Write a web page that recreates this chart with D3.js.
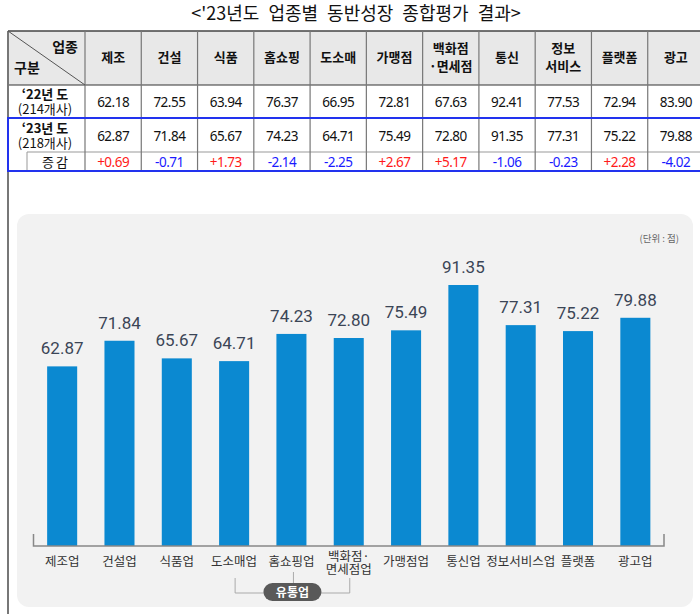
<!DOCTYPE html>
<html><head><meta charset="utf-8">
<script src="https://cdn.jsdelivr.net/npm/d3@7/dist/d3.min.js"></script>
<style>
html,body{margin:0;padding:0;background:#fff;}
svg{display:block;}
</style></head>
<body>
<svg id="c" width="700" height="614"></svg>
<script>
// ---- data ----
const title = "<'23년도 업종별 동반성장 종합평가 결과>";
const tableCats = ["제조","건설","식품","홈쇼핑","도소매","가맹점","백화점\n·면세점","통신","정보\n서비스","플랫폼","광고"];
const values22 = [62.18,72.55,63.94,76.37,66.95,72.81,67.63,92.41,77.53,72.94,83.90];
const values23 = [62.87,71.84,65.67,74.23,64.71,75.49,72.80,91.35,77.31,75.22,79.88];
const diffs = ["+0.69","-0.71","+1.73","-2.14","-2.25","+2.67","+5.17","-1.06","-0.23","+2.28","-4.02"];
const chartCats = ["제조업","건설업","식품업","도소매업","홈쇼핑업","백화점·\n면세점업","가맹점업","통신업","정보서비스업","플랫폼","광고업"];
const chartValues = [62.87,71.84,65.67,64.71,74.23,72.80,75.49,91.35,77.31,75.22,79.88];
const groupLabel = "유통업";
const unitLabel = "(단위 : 점)";

(function(){
const KR = "'Noto Sans CJK KR','Noto Sans',sans-serif";
const svg = d3.select("#c");

// ---- title ----
svg.append("text").attr("x",356).attr("y",20).attr("text-anchor","middle")
  .attr("font-family",KR).attr("font-size",18).attr("word-spacing",5).attr("fill","#111").text(title);

// ---- table ----
const tx = d3.scaleBand().domain(tableCats).range([85,704]);
const tTop=31, hBot=85, r1Bot=118, r2Bot=152, r3Bot=171, tLeft=8;
svg.append("rect").attr("x",tLeft).attr("y",tTop).attr("width",700-tLeft).attr("height",hBot-tTop).attr("fill","#e8e8e8");
const hl = (yy,x1,x2,col,w)=>svg.append("line").attr("x1",x1).attr("x2",x2).attr("y1",yy).attr("y2",yy).attr("stroke",col).attr("stroke-width",w);
hl(tTop,tLeft,700,"#444",1.5);
hl(hBot,tLeft,700,"#333",1.2);
hl(r2Bot,27,700,"#999",1);
tableCats.forEach(c=>{
  svg.append("line").attr("x1",tx(c)).attr("x2",tx(c)).attr("y1",tTop).attr("y2",r3Bot).attr("stroke","#777").attr("stroke-width",1.2);
});
svg.append("line").attr("x1",27).attr("x2",27).attr("y1",r2Bot).attr("y2",r3Bot).attr("stroke","#999").attr("stroke-width",1);
svg.append("line").attr("x1",tLeft).attr("x2",tLeft).attr("y1",tTop).attr("y2",614).attr("stroke","#777").attr("stroke-width",2);
svg.append("line").attr("x1",tLeft).attr("y1",tTop).attr("x2",85).attr("y2",hBot).attr("stroke","#555").attr("stroke-width",1);
svg.append("text").attr("x",78).attr("y",52).attr("text-anchor","end").attr("font-family",KR).attr("font-weight","bold").attr("font-size",14).attr("fill","#111").text("업종");
svg.append("text").attr("x",14).attr("y",73).attr("font-family",KR).attr("font-weight","bold").attr("font-size",14).attr("fill","#111").text("구분");
tableCats.forEach(c=>{
  const lines=c.split("\n");
  const cx=tx(c)+tx.bandwidth()/2;
  const t=svg.append("text").attr("text-anchor","middle").attr("font-family",KR).attr("font-weight","bold").attr("font-size",13).attr("fill","#111");
  lines.forEach((l,i)=>{
    t.append("tspan").attr("x",cx).attr("y",(lines.length===1?62:53+i*18)).text(l);
  });
});
const rowLab=(yy,a,b)=>{
  svg.append("text").attr("x",45).attr("y",yy).attr("text-anchor","middle").attr("font-family",KR).attr("font-weight","bold").attr("font-size",13).attr("fill","#111").text(a);
  svg.append("text").attr("x",45).attr("y",yy+15).attr("text-anchor","middle").attr("font-family",KR).attr("font-size",13).attr("fill","#111").text(b);
};
rowLab(99,"‘22년 도","(214개사)");
rowLab(133,"‘23년 도","(218개사)");
svg.append("text").attr("x",56).attr("y",167).attr("text-anchor","middle").attr("font-family",KR).attr("font-size",13).attr("letter-spacing",2).attr("fill","#111").text("증감");
const cellTxt=(arr,yy,colorFn)=>arr.forEach((v,i)=>{
  const c=tableCats[i];
  svg.append("text").attr("x",tx(c)+tx.bandwidth()/2).attr("y",yy).attr("text-anchor","middle")
    .attr("font-family","'Noto Sans',sans-serif").attr("font-size",13.5).attr("letter-spacing",-0.5).attr("fill",colorFn(v)).text(typeof v==="number"?v.toFixed(2):v);
});
cellTxt(values22,107,()=>"#111");
cellTxt(values23,141,()=>"#111");
cellTxt(diffs,167,v=>v[0]==="+"?"#ff1a1a":"#1a1aff");
svg.append("path").attr("d",`M700,${r1Bot}H${tLeft}V${r3Bot}H700`).attr("fill","none").attr("stroke","#2233ee").attr("stroke-width",2);

// ---- chart panel ----
svg.append("rect").attr("x",17).attr("y",214).attr("width",676).attr("height",393).attr("rx",12).attr("fill","#f2f2f2");
svg.append("text").attr("x",679).attr("y",242).attr("text-anchor","end").attr("font-family",KR).attr("font-size",9.5).attr("fill","#666").text(unitLabel);

const x = d3.scaleBand().domain(chartCats).range([33.5,664]).paddingInner(0.476).paddingOuter(0.238);
const y = d3.scaleLinear().domain([0,100]).range([546,260.3]);

svg.selectAll("rect.bar").data(chartValues).enter().append("rect").attr("class","bar")
  .attr("x",(d,i)=>x(chartCats[i])).attr("width",x.bandwidth())
  .attr("y",d=>y(d)).attr("height",d=>y(0)-y(d)).attr("fill","#0b89d1");
svg.selectAll("text.val").data(chartValues).enter().append("text").attr("class","val")
  .attr("x",(d,i)=>x(chartCats[i])+x.bandwidth()/2).attr("y",d=>y(d)-12)
  .attr("text-anchor","middle").attr("font-family","Roboto,'Noto Sans',sans-serif").attr("font-size",17).attr("fill","#3b4556")
  .text(d=>d.toFixed(2));

const axis = d3.axisBottom(x).tickSize(0).tickPadding(12);
const ag = svg.append("g").attr("transform","translate(0,546)").call(axis);
ag.select(".domain").attr("d","M33.5,-12V0H664V-12").attr("stroke","#888").attr("stroke-width",1.5).attr("fill","none");
ag.selectAll(".tick text").each(function(d){
  const t=d3.select(this); const lines=d.split("\n");
  t.text(null).attr("font-family",KR).attr("font-size",12.5).attr("fill","#333").attr("y",null).attr("dy",null);
  lines.forEach((l,i)=>t.append("tspan").attr("x",0).attr("y",(lines.length===1?20:15+i*13)).text(l));
});

const c4=x(chartCats[3])+x.bandwidth()/2, c6=x(chartCats[5])+x.bandwidth()/2, c5=x(chartCats[4])+x.bandwidth()/2;
svg.append("path").attr("d",`M${c4+1},578V593H${c6+1}V578`).attr("fill","none").attr("stroke","#aaa").attr("stroke-width",1);
svg.append("line").attr("x1",c5+2).attr("x2",c5+2).attr("y1",572).attr("y2",584).attr("stroke","#aaa");
svg.append("rect").attr("x",c5-28).attr("y",583).attr("width",58).attr("height",18).attr("rx",9).attr("fill","#595959");
svg.append("text").attr("x",c5+1).attr("y",596.5).attr("text-anchor","middle").attr("font-family",KR).attr("font-weight","bold").attr("font-size",12).attr("fill","#fff").text(groupLabel);
})();
</script>
</body></html>
